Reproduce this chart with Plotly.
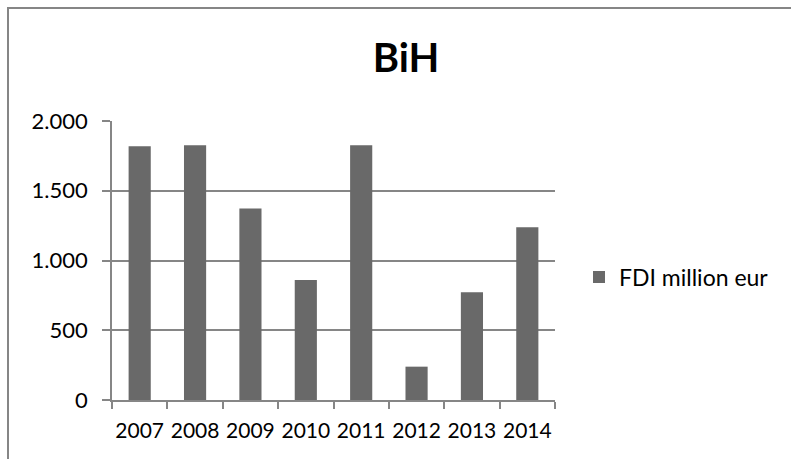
import plotly.graph_objects as go

years = ["2007", "2008", "2009", "2010", "2011", "2012", "2013", "2014"]
fdi = [1819, 1826, 1372, 860, 1826, 239, 772, 1238]
series_name = "FDI million eur"
title_text = "BiH"
y_ticks = [0, 500, 1000, 1500, 2000]
y_tick_labels = ["0", "500", "1.000", "1.500", "2.000"]

W, H = 791, 459
L, R, T, B = 112, 555, 121, 400
pw, ph = R - L, B - T

def px_x(p):
    return (p - L) / pw

def px_y(p):
    return (B - p) / ph

grid = "#868686"
font = "Lato, 'Open Sans', sans-serif"

fig = go.Figure()
fig.add_trace(go.Bar(
    x=years, y=fdi, name=series_name,
    marker=dict(color="#696969", line=dict(width=0)),
    showlegend=True,
))

fig.update_layout(
    width=W, height=H,
    margin=dict(l=L, r=W - R, t=T, b=H - B, pad=0, autoexpand=False),
    paper_bgcolor="white", plot_bgcolor="white",
    bargap=0.6,
    font=dict(family=font, size=21, color="black"),
    title=dict(text="<b>" + title_text + "</b>", x=406 / W, xanchor="center",
               y=1 - 58 / H, yanchor="middle", xref="container", yref="container",
               font=dict(family=font, size=40, color="black")),
    showlegend=True,
    legend=dict(x=px_x(579), xanchor="left", y=px_y(277), yanchor="middle",
                font=dict(family=font, size=23, color="black"),
                bgcolor="rgba(0,0,0,0)", borderwidth=0),
    xaxis=dict(
        type="category", showgrid=False, showline=True, linecolor=grid, linewidth=1.5,
        ticks="outside", tickson="boundaries", ticklen=7, tickcolor=grid, tickwidth=1.5,
        tickfont=dict(family=font, size=21, color="black"),
        tickangle=0, automargin=False,
        ticklabelstandoff=11,
    ),
    yaxis=dict(
        range=[0, 2000], tickvals=y_ticks, ticktext=y_tick_labels,
        showgrid=True, gridcolor=grid, gridwidth=1.5,
        showline=True, linecolor=grid, linewidth=1.5,
        ticks="outside", ticklen=8, tickcolor=grid, tickwidth=1.5,
        tickfont=dict(family=font, size=22, color="black"),
        ticklabelstandoff=10, zeroline=False, automargin=False,
    ),
    shapes=[dict(type="rect", xref="paper", yref="paper",
                 x0=px_x(8), x1=px_x(830), y0=px_y(500), y1=px_y(8),
                 line=dict(color=grid, width=2), fillcolor="rgba(0,0,0,0)",
                 layer="below")],
)

fig.write_html("out.html")
